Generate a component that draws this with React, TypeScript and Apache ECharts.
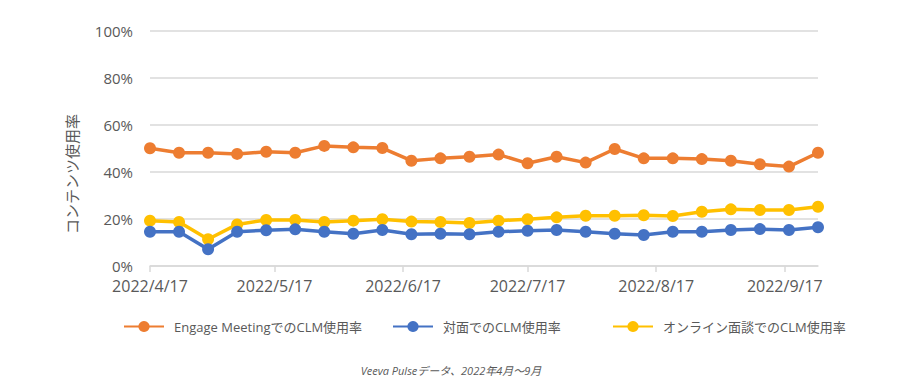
import React, { useEffect, useRef } from "react";
import * as echarts from "echarts";

const startDate = [2022, 3, 17];
const weekCount = 24;
const tickLabelDates = ["2022/4/17", "2022/5/17", "2022/6/17", "2022/7/17", "2022/8/17", "2022/9/17"];
const yTicks = [0, 20, 40, 60, 80, 100];

const seriesNames = ["Engage MeetingでのCLM使用率", "対面でのCLM使用率", "オンライン面談でのCLM使用率"];
const engageValues = [50.1, 48.2, 48.2, 47.7, 48.6, 48.2, 51.1, 50.5, 50.2, 44.8, 45.8, 46.5, 47.4, 43.7, 46.5, 44.0, 49.8, 45.8, 45.8, 45.5, 44.8, 43.3, 42.3, 48.2];
const faceValues = [14.6, 14.6, 7.1, 14.6, 15.2, 15.6, 14.6, 13.7, 15.3, 13.5, 13.7, 13.5, 14.6, 15.0, 15.3, 14.6, 13.7, 13.2, 14.6, 14.6, 15.3, 15.7, 15.3, 16.5];
const onlineValues = [19.3, 18.7, 11.4, 17.7, 19.6, 19.6, 18.7, 19.3, 19.9, 18.9, 18.7, 18.3, 19.3, 19.9, 20.7, 21.4, 21.4, 21.6, 21.3, 23.1, 24.1, 23.8, 23.8, 25.2];
const colors = ["#ED7D31", "#4472C4", "#FFC000"];

const FONT = "'Open Sans', 'Noto Sans CJK JP', sans-serif";
const DAY = 86400000;

const startTs = Date.UTC(startDate[0], startDate[1], startDate[2]);
// x positions in days since the first week
const weekDays = Array.from({ length: weekCount }, (_, i) => i * 7);
const tickDays = tickLabelDates.map((s) => {
  const [y, m, d] = s.split("/").map(Number);
  return Math.round((Date.UTC(y, m - 1, d) - startTs) / DAY);
});
const dayLabel = (v: number) => {
  const d = new Date(startTs + Math.round(v) * DAY);
  return `${d.getUTCFullYear()}/${d.getUTCMonth() + 1}/${d.getUTCDate()}`;
};

export default function App() {
  const ref = useRef<HTMLDivElement>(null);
  useEffect(() => {
    const chart = echarts.init(ref.current!, null, { renderer: "svg" });
    const valuesList = [engageValues, faceValues, onlineValues];
    const legendLefts = [123, 392, 612];
    chart.setOption({
      animation: false,
      textStyle: { fontFamily: FONT },
      grid: { left: 150, right: 82, top: 31, bottom: 124 },
      legend: seriesNames.map((n, i) => ({
        data: [n],
        left: legendLefts[i],
        top: 320,
        padding: 0,
        itemWidth: 40,
        itemHeight: 14,
        itemGap: 10,
        textStyle: { color: "#595959", fontSize: 13, fontFamily: FONT, padding: [0, 0, 0, 5] },
      })),
      xAxis: {
        type: "value",
        min: weekDays[0],
        max: weekDays[weekDays.length - 1],
        axisLine: { lineStyle: { color: "#D9D9D9", width: 1.5 } },
        axisTick: { show: true, customValues: tickDays, length: 6, lineStyle: { color: "#D9D9D9", width: 1.5 } },
        axisLabel: {
          customValues: tickDays,
          color: "#595959",
          fontSize: 16,
          margin: 12,
          fontFamily: FONT,
          formatter: (v: number) => dayLabel(v),
        },
        splitLine: { show: false },
      },
      yAxis: {
        type: "value",
        min: yTicks[0],
        max: yTicks[yTicks.length - 1],
        interval: yTicks[1] - yTicks[0],
        axisLine: { show: false },
        axisTick: { show: false },
        axisLabel: { formatter: "{value}%", color: "#595959", fontSize: 15, margin: 17, fontFamily: FONT },
        splitLine: { lineStyle: { color: "#D9D9D9", width: 1.5 } },
      },
      series: seriesNames.map((n, i) => ({
        name: n,
        type: "line",
        data: weekDays.map((d, j) => [d, valuesList[i][j]]),
        symbol: "circle",
        symbolSize: 12,
        itemStyle: { color: colors[i] },
        lineStyle: { color: colors[i], width: 3.5 },
        z: 5 - i,
      })),
      graphic: [
        {
          type: "text",
          x: 71,
          y: 174,
          rotation: Math.PI / 2,
          style: {
            text: "コンテンツ使用率",
            fill: "#595959",
            fontSize: 15,
            fontFamily: "'Noto Sans CJK JP', sans-serif",
            align: "center",
            verticalAlign: "middle",
          },
        },
        {
          type: "text",
          x: 451,
          y: 370,
          style: {
            text: "Veeva Pulseデータ、2022年4月〜9月",
            fill: "#595959",
            fontSize: 11,
            fontStyle: "italic",
            fontFamily: FONT,
            align: "center",
            verticalAlign: "middle",
          },
        },
      ],
    });
    return () => chart.dispose();
  }, []);
  return <div ref={ref} style={{ position: "absolute", left: 0, top: 0, width: 900, height: 390 }} />;
}
